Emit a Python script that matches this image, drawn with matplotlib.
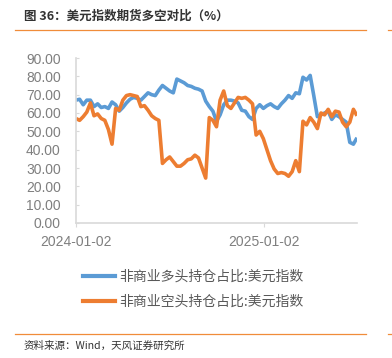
import matplotlib
matplotlib.use("Agg")
import matplotlib.pyplot as plt
import matplotlib.dates as mdates
from matplotlib.lines import Line2D
import numpy as np
import pandas as pd

plt.rcParams['font.family'] = ['Noto Sans CJK SC', 'DejaVu Sans']

title = "图 36：美元指数期货多空对比（%）"
source = "资料来源：Wind，天风证券研究所"
series_names = ["非商业多头持仓占比:美元指数", "非商业空头持仓占比:美元指数"]
start_date = "2024-01-02"
x_ticks = ["2024-01-02", "2025-01-02"]
y_ticks = [0, 10, 20, 30, 40, 50, 60, 70, 80, 90]

long_pct = [67, 67.5, 64.5, 67, 67, 63.5, 65, 63, 63.5, 62.5,
            66, 64.5, 61, 63, 65.5, 67.5, 68.5, 68, 67, 69,
            71, 70, 69.5, 72.5, 75, 73.5, 72, 71, 78.5, 77.5,
            76.5, 75, 74.5, 73.5, 73, 72, 66.5, 63.5, 61, 55.5,
            59, 64.5, 67, 67, 66.5, 65.5, 61.5, 61, 58, 56.5,
            62.5, 64.5, 62.5, 64, 65, 63.5, 62.5, 65, 67, 69.5,
            68, 71, 70.5, 79.5, 78, 80.5, 69.5, 58, 59, 60,
            61, 56.5, 59, 58, 56.5, 55, 44, 43, 46.5]
short_pct = [57, 56, 58, 60.5, 65.5, 58.5, 59.5, 57, 56, 51,
             43, 62.5, 61.5, 67, 69.5, 70, 69.5, 69, 63.5, 64,
             61.5, 58.5, 57, 56, 32.5, 34.5, 36, 33.5, 31, 31,
             32.5, 34.5, 35, 37, 35.5, 30, 24.5, 57.5, 56, 52.5,
             67, 72, 64, 62.5, 65.5, 68.5, 68, 68.5, 67, 65,
             48, 50, 46, 40, 34, 29.5, 27, 27.5, 27, 25.5,
             28, 34, 28, 55.5, 53.5, 57.5, 55, 51.5, 60, 59,
             62, 58, 61, 60.5, 55, 52.5, 55, 62, 58.5]

dates = pd.date_range(start_date, periods=len(long_pct), freq="7D")

W, H = 392, 358
fig = plt.figure(figsize=(W / 100, H / 100), dpi=100)
ax = fig.add_axes([76 / W, 1 - 223 / H, (357 - 76) / W, (223 - 58) / H])

blue = "#5B9BD5"
orange = "#ED7D31"
ax.plot(dates, long_pct, color=blue, lw=2.6, solid_capstyle="butt", solid_joinstyle="round")
ax.plot(dates, short_pct, color=orange, lw=2.6, solid_capstyle="butt", solid_joinstyle="round")

ax.set_xlim(dates[0], dates[-1])
ax.set_ylim(0, 90)
ax.set_yticks(y_ticks)
ax.set_yticklabels([f"{v:.2f}" for v in y_ticks])
ax.set_xticks(pd.to_datetime(x_ticks))
ax.set_xticklabels(x_ticks)

for side in ["top", "right"]:
    ax.spines[side].set_visible(False)
for side in ["left", "bottom"]:
    ax.spines[side].set_color("#D9D9D9")
    ax.spines[side].set_linewidth(1.2)

for lab in ax.get_yticklabels() + ax.get_xticklabels():
    lab.set_fontfamily("Liberation Sans")
    lab.set_fontsize(10)
    lab.set_color("#7F7F7F")
ax.tick_params(axis="y", direction="in", length=2.5, color="#D9D9D9", pad=11)
ax.tick_params(axis="x", direction="out", length=3, color="#D9D9D9", pad=6)

# legend
handles = [Line2D([], [], color=blue, lw=3), Line2D([], [], color=orange, lw=3)]
fig.legend(handles, series_names, loc="center", bbox_to_anchor=(0.494, 0.192),
           frameon=False, fontsize=10, handlelength=2.3, handletextpad=0.3,
           labelspacing=0.75, labelcolor="#595959")

# title and source
fig.text(24 / W, 1 - 16 / H, title, fontsize=9, fontweight="bold", color="#333333",
         ha="left", va="center")
line_col = "#F08C3A"
fig.add_artist(Line2D([15 / W, 366 / W], [1 - 29.5 / H] * 2, color=line_col, lw=0.9))
fig.add_artist(Line2D([388 / W, 392 / W], [1 - 29.5 / H] * 2, color=line_col, lw=0.9))
fig.add_artist(Line2D([15 / W, 366 / W], [1 - 333.5 / H] * 2, color=line_col, lw=0.9))
fig.add_artist(Line2D([388 / W, 392 / W], [1 - 333.5 / H] * 2, color=line_col, lw=0.9))
fig.text(24 / W, 1 - 346 / H, source, fontsize=7.6, color="#333333", ha="left", va="center")

fig.savefig("out.png", dpi=100)
